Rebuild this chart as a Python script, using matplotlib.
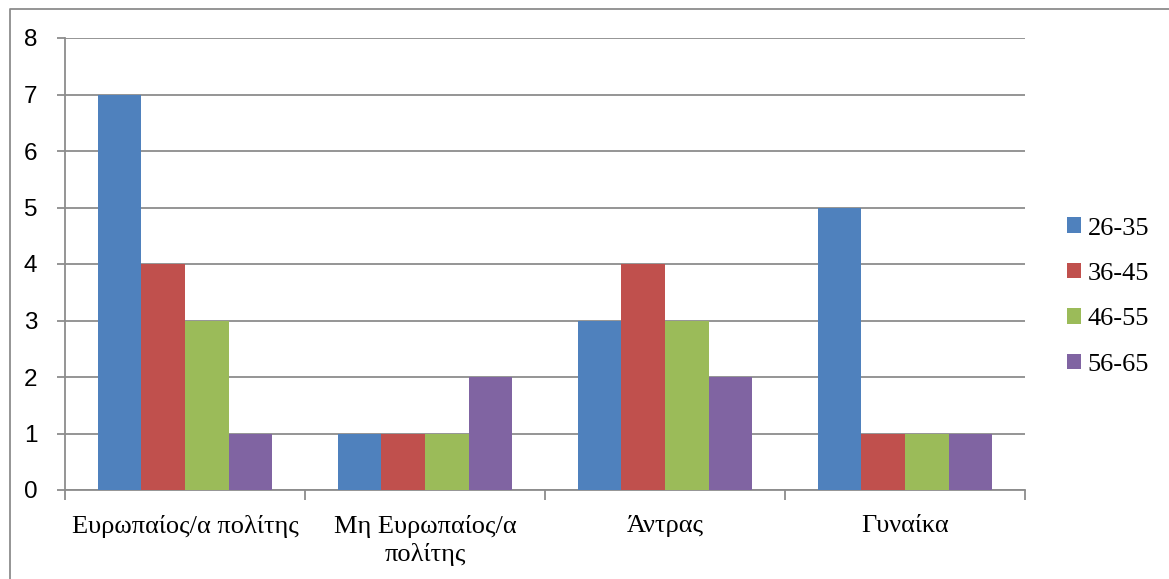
import matplotlib.pyplot as plt
import numpy as np
from matplotlib.lines import Line2D

categories = ["Ευρωπαίος/α πολίτης", "Μη Ευρωπαίος/α\nπολίτης", "Άντρας", "Γυναίκα"]
age_groups = ["26-35", "36-45", "46-55", "56-65"]
counts = {
    "26-35": [7, 1, 3, 5],
    "36-45": [4, 1, 4, 1],
    "46-55": [3, 1, 3, 1],
    "56-65": [1, 2, 2, 1],
}
colors = ["#4F81BD", "#C0504D", "#9BBB59", "#8064A2"]

W, H = 1169, 579
fig = plt.figure(figsize=(W / 100, H / 100), dpi=100)

# chart frame: only the top and left edges fall on the page
fx, fy = 10 / W, 1 - 9 / H
fig.add_artist(Line2D([fx, fx, 1.0], [0.0, fy, fy], transform=fig.transFigure,
                      color="#8c8c8c", linewidth=1.3))

ax = fig.add_axes([65 / W, 1 - 490 / H, (1025 - 65) / W, (490 - 38) / H])

x = np.arange(len(categories))
width = 0.182
for j, grp in enumerate(age_groups):
    ax.bar(x + (j - 1.5) * width, counts[grp], width, color=colors[j], label=grp, zorder=3)

ax.set_xlim(-0.5, len(categories) - 0.5)
ax.set_ylim(0, 8)
ax.set_yticks(range(0, 9))
ax.yaxis.grid(True, color="#8c8c8c", linewidth=1.3, zorder=0)

for side in ["top", "right"]:
    ax.spines[side].set_visible(False)
for side in ["left", "bottom"]:
    ax.spines[side].set_color("#8c8c8c")
    ax.spines[side].set_linewidth(1.3)

ax.set_xticks(np.arange(-0.5, len(categories) + 0.5, 1))
ax.set_xticklabels([])
ax.set_xticks(x, minor=True)
ax.set_xticklabels(categories, minor=True, fontsize=19, family="Liberation Serif",
                   linespacing=1.25, va="top")
ax.tick_params(axis="x", which="major", length=7, width=1.3, color="#8c8c8c")
ax.tick_params(axis="x", which="minor", length=0, pad=18)
ax.tick_params(axis="y", length=6, width=1.3, color="#8c8c8c", labelsize=17.5, pad=14)
for lbl in ax.get_yticklabels():
    lbl.set_family("Liberation Sans")

ax.legend(loc="center left", bbox_to_anchor=(1.033, 0.428), frameon=False,
          prop={"family": "Liberation Serif", "size": 19},
          handlelength=0.53, handleheight=0.53, handletextpad=0.25, labelspacing=0.88,
          borderaxespad=0)

fig.savefig("out.png", dpi=100)
